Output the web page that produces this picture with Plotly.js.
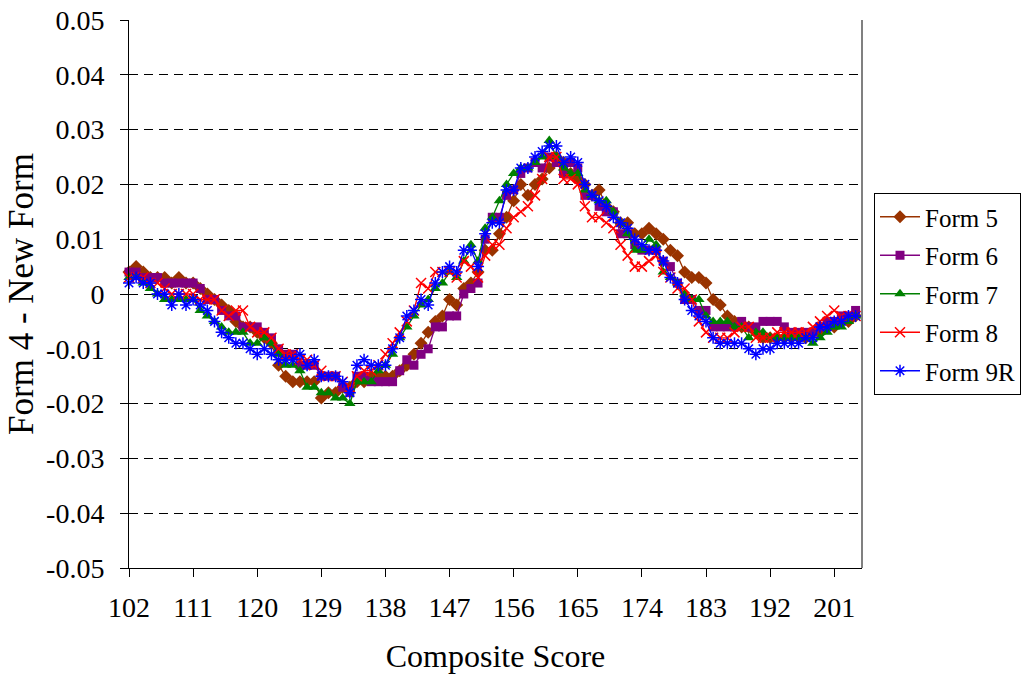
<!DOCTYPE html>
<html>
<head>
<meta charset="utf-8">
<script src="https://cdn.plot.ly/plotly-3.0.1.min.js"></script>
<style>html,body{margin:0;padding:0;background:#fff;}#chart{width:1029px;height:675px;}</style>
</head>
<body>
<div id="chart"></div>
<script>
// Composite scores 102..204
const scoreStart = 102, scoreEnd = 204;
const scores = [];
for (let s = scoreStart; s <= scoreEnd; s++) scores.push(s);

const form5 = [0.004,0.005,0.004,0.003,0.003,0.003,0.002,0.003,0.002,0.002,
0.001,0.000,-0.001,-0.002,-0.003,-0.005,-0.006,-0.006,-0.007,-0.008,
-0.009,-0.013,-0.015,-0.016,-0.016,-0.016,-0.016,-0.019,-0.018,-0.018,
-0.017,-0.017,-0.016,-0.016,-0.015,-0.015,-0.015,-0.015,-0.014,-0.013,
-0.011,-0.009,-0.007,-0.005,-0.004,-0.001,-0.002,0.001,0.002,0.004,
0.008,0.008,0.011,0.014,0.017,0.020,0.018,0.020,0.021,0.023,
0.025,0.024,0.022,0.021,0.020,0.018,0.019,0.016,0.015,0.013,
0.013,0.011,0.011,0.012,0.011,0.010,0.008,0.007,0.004,0.003,
0.003,0.002,-0.001,-0.002,-0.004,-0.005,-0.006,-0.006,-0.007,-0.008,
-0.008,-0.008,-0.008,-0.008,-0.008,-0.008,-0.007,-0.007,-0.006,-0.006,
-0.005,-0.005,-0.004];

const form6 = [0.004,0.004,0.003,0.003,0.003,0.002,0.002,0.002,0.002,0.002,
0.001,-0.001,-0.001,-0.003,-0.004,-0.004,-0.006,-0.006,-0.006,-0.007,
-0.008,-0.010,-0.011,-0.011,-0.013,-0.013,-0.013,-0.015,-0.015,-0.015,
-0.017,-0.018,-0.015,-0.015,-0.016,-0.016,-0.016,-0.016,-0.014,-0.012,
-0.013,-0.011,-0.010,-0.006,-0.006,-0.004,-0.004,0.000,0.001,0.002,
0.010,0.014,0.014,0.018,0.019,0.022,0.023,0.024,0.023,0.025,
0.024,0.022,0.024,0.023,0.018,0.018,0.016,0.015,0.015,0.011,
0.011,0.009,0.008,0.008,0.008,0.006,0.005,0.002,-0.001,-0.001,
-0.003,-0.003,-0.006,-0.006,-0.006,-0.006,-0.005,-0.006,-0.006,-0.005,
-0.005,-0.005,-0.006,-0.007,-0.007,-0.007,-0.007,-0.006,-0.005,-0.005,
-0.004,-0.004,-0.003];

const form7 = [0.003,0.003,0.002,0.001,0.000,-0.001,-0.001,-0.001,-0.001,-0.001,
-0.003,-0.004,-0.005,-0.006,-0.007,-0.007,-0.007,-0.009,-0.009,-0.008,
-0.009,-0.011,-0.013,-0.013,-0.014,-0.017,-0.017,-0.018,-0.018,-0.019,
-0.019,-0.020,-0.016,-0.016,-0.016,-0.014,-0.013,-0.011,-0.008,-0.006,
-0.004,-0.002,-0.001,0.001,0.002,0.004,0.003,0.006,0.009,0.006,
0.012,0.014,0.017,0.020,0.022,0.023,0.023,0.024,0.025,0.028,
0.025,0.023,0.022,0.022,0.019,0.018,0.017,0.017,0.015,0.013,
0.011,0.008,0.008,0.010,0.009,0.004,0.003,0.002,0.000,-0.001,
-0.001,-0.004,-0.005,-0.005,-0.005,-0.006,-0.006,-0.008,-0.007,-0.007,
-0.008,-0.008,-0.008,-0.008,-0.008,-0.008,-0.009,-0.008,-0.007,-0.006,
-0.006,-0.005,-0.004];

const form8 = [0.003,0.003,0.003,0.002,0.002,0.001,0.000,0.000,0.000,0.000,
-0.001,-0.001,-0.001,-0.003,-0.004,-0.003,-0.003,-0.006,-0.007,-0.007,
-0.008,-0.010,-0.011,-0.011,-0.012,-0.012,-0.013,-0.014,-0.015,-0.015,
-0.016,-0.017,-0.015,-0.014,-0.014,-0.013,-0.011,-0.009,-0.007,-0.005,
-0.003,0.002,0.001,0.004,0.004,0.004,0.003,0.006,0.005,0.003,
0.007,0.009,0.009,0.012,0.014,0.015,0.016,0.018,0.021,0.025,
0.025,0.021,0.021,0.020,0.016,0.014,0.014,0.013,0.012,0.009,
0.007,0.005,0.005,0.006,0.007,0.004,0.003,0.001,0.001,-0.001,
-0.005,-0.007,-0.008,-0.008,-0.008,-0.007,-0.006,-0.006,-0.008,-0.008,
-0.008,-0.007,-0.007,-0.007,-0.007,-0.007,-0.006,-0.005,-0.004,-0.003,
-0.004,-0.004,-0.004];

const form9R = [0.002,0.003,0.002,0.002,0.000,0.000,-0.002,0.000,-0.002,-0.001,
-0.002,-0.003,-0.005,-0.007,-0.008,-0.009,-0.009,-0.010,-0.011,-0.010,
-0.011,-0.012,-0.012,-0.012,-0.011,-0.013,-0.012,-0.015,-0.015,-0.015,
-0.016,-0.018,-0.013,-0.012,-0.013,-0.013,-0.013,-0.010,-0.008,-0.004,
-0.003,-0.001,-0.002,0.002,0.004,0.005,0.004,0.008,0.008,0.005,
0.011,0.013,0.013,0.019,0.019,0.023,0.023,0.025,0.026,0.027,
0.027,0.024,0.025,0.024,0.020,0.018,0.017,0.016,0.014,0.013,
0.012,0.010,0.009,0.008,0.008,0.006,0.003,0.002,-0.001,-0.003,
-0.004,-0.005,-0.008,-0.009,-0.009,-0.009,-0.009,-0.010,-0.011,-0.010,
-0.010,-0.009,-0.009,-0.009,-0.009,-0.008,-0.008,-0.006,-0.006,-0.005,
-0.005,-0.004,-0.004];

const seriesNames = ["Form 5", "Form 6", "Form 7", "Form 8", "Form 9R"];
const xTickVals = [102, 111, 120, 129, 138, 147, 156, 165, 174, 183, 192, 201];
const xTickLabels = ["102","111","120","129","138","147","156","165","174","183","192","201"];
const yTickVals = [-0.05,-0.04,-0.03,-0.02,-0.01,0,0.01,0.02,0.03,0.04,0.05];
const yTickLabels = ["-0.05","-0.04","-0.03","-0.02","-0.01","0","0.01","0.02","0.03","0.04","0.05"];

const seriesData = [form5, form6, form7, form8, form9R];
const styles = [
  {color:"#993300", symbol:"diamond", size:10, lw:0},
  {color:"#800080", symbol:"square", size:9, lw:0},
  {color:"#008000", symbol:"triangle-up", size:10, lw:0},
  {color:"#FF0000", symbol:"x-thin-open", size:10, lw:1.5},
  {color:"#0000FF", symbol:"asterisk-open", size:10, lw:1.5}
];

const FONT = "'Liberation Serif', 'Times New Roman', serif";

const traces = seriesData.map((vals, i) => ({
  type: "scatter",
  mode: "lines+markers",
  x: scores,
  y: vals,
  name: seriesNames[i],
  legendgroup: "g" + i,
  cliponaxis: false,
  line: {color: styles[i].color, width: 1.3},
  marker: {
    color: styles[i].color,
    symbol: styles[i].symbol,
    size: styles[i].size,
    line: {color: styles[i].color, width: styles[i].lw}
  }
}));

const layout = {
  width: 1029,
  height: 675,
  margin: {l: 129, r: 167, t: 20, b: 107},
  paper_bgcolor: "#ffffff",
  plot_bgcolor: "#ffffff",
  font: {family: FONT, size: 25, color: "#000"},
  showlegend: true,
  legend: {
    xref: "container", yref: "container",
    x: 874 / 1029, y: 1 - 193 / 675, xanchor: "left", yanchor: "top",
    bordercolor: "#000", borderwidth: 1, bgcolor: "#fff",
    font: {family: FONT, size: 25, color: "#000"},
    tracegroupgap: 3,
    itemwidth: 40,
    entrywidth: 106
  },
  xaxis: {
    range: [102, 204.9],
    tickmode: "array",
    tickvals: xTickVals,
    ticktext: xTickLabels,
    ticks: "outside", ticklen: 8, tickcolor: "#000", tickwidth: 1,
    ticklabelstandoff: 6,
    showline: true, linecolor: "#000", linewidth: 1,
    showgrid: false, zeroline: false,
    tickfont: {family: FONT, size: 28, color: "#000"},
    title: {text: "Composite Score", font: {family: FONT, size: 32, color: "#000"}, standoff: 23}
  },
  yaxis: {
    range: [-0.05, 0.05],
    tickmode: "array",
    tickvals: yTickVals,
    ticktext: yTickLabels,
    ticks: "outside", ticklen: 8, tickcolor: "#000", tickwidth: 1,
    ticklabelstandoff: 10,
    showline: true, linecolor: "#000", linewidth: 1,
    showgrid: true, gridcolor: "#000", gridwidth: 1, griddash: "9px,6px",
    zeroline: false,
    tickfont: {family: FONT, size: 28, color: "#000"},
    title: {text: "Form 4 - New Form", font: {family: FONT, size: 35, color: "#000"}, standoff: 1}
  },
  shapes: [
    {type: "line", xref: "paper", yref: "paper", x0: 1, x1: 1, y0: 0, y1: 1,
     line: {color: "#808080", width: 2}}
  ]
};

Plotly.newPlot("chart", traces, layout, {displayModeBar: false, staticPlot: true});
</script>
</body>
</html>
